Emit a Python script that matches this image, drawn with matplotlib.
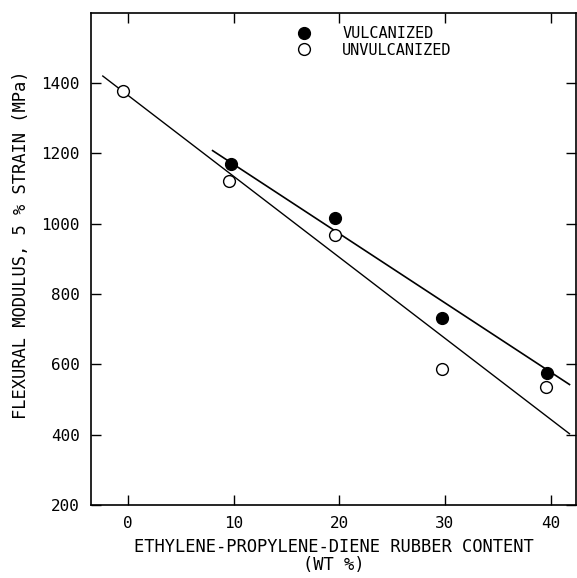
import matplotlib.pyplot as plt

plt.rcParams['font.family'] = ['DejaVu Sans Mono', 'DejaVu Sans']

# values
vulc_x = [9.7, 19.6, 29.7, 39.7]
vulc_y = [1169, 1017, 732, 577]
unvulc_x = [-0.5, 9.6, 19.6, 29.7, 39.6]
unvulc_y = [1377, 1123, 969, 586, 535]

# straight-line fits as drawn
vulc_fit_x = [8.0, 41.8]
vulc_fit_y = [1208, 543]
unvulc_fit_x = [-2.4, 41.8]
unvulc_fit_y = [1420, 403]

xticks = [0, 10, 20, 30, 40]
yticks = [200, 400, 600, 800, 1000, 1200, 1400]

fig = plt.figure(figsize=(5.77, 5.78), dpi=100)
ax = fig.add_axes([0.158, 0.126, 0.84, 0.852])

ax.plot(vulc_fit_x, vulc_fit_y, color='black', lw=1.2)
ax.plot(unvulc_fit_x, unvulc_fit_y, color='black', lw=1.0)
ax.plot(vulc_x, vulc_y, 'o', color='black', ms=8.5, label='VULCANIZED')
ax.plot(unvulc_x, unvulc_y, 'o', mfc='white', mec='black', mew=1.0, ms=8.5,
        label='UNVULCANIZED')

ax.set_xlim(-3.5, 42.4)
ax.set_ylim(200, 1600)
ax.set_xticks(xticks)
ax.set_yticks(yticks)
ax.tick_params(direction='in', length=7, width=1, top=True, right=True,
               labelsize=11.5, pad=8)
for s in ax.spines.values():
    s.set_linewidth(1.2)

ax.set_xlabel("ETHYLENE-PROPYLENE-DIENE RUBBER CONTENT\n(WT %)",
              fontsize=12.3, linespacing=0.95, labelpad=5)
ax.set_ylabel("FLEXURAL MODULUS, 5 % STRAIN (MPa)", fontsize=12.3)
ax.yaxis.set_label_coords(-0.126, 0.528)

ax.legend(loc='upper left', bbox_to_anchor=(0.395, 0.985), frameon=False,
          fontsize=11, handletextpad=1.5, labelspacing=0.1, borderaxespad=0)

plt.savefig('out.png', dpi=100)
